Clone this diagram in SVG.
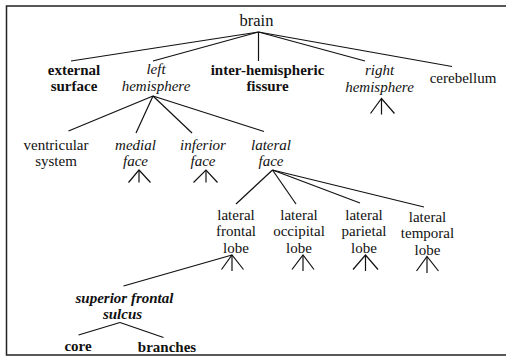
<svg xmlns="http://www.w3.org/2000/svg" width="506" height="356" viewBox="0 0 506 356" font-family="Liberation Serif, DejaVu Serif, serif">
<style>
text{font-family:'Liberation Serif','DejaVu Serif',serif;font-size:15px;fill:#111;text-anchor:middle}
.b{font-weight:bold}
.i{font-style:italic}
.e line,.e polyline{stroke:#111;stroke-width:1.2;fill:none}
.frame{fill:none;stroke:#222;stroke-width:1.5}
</style>
<rect class="frame" x="6.5" y="6" width="510" height="349"/>
<g id="connectors" class="e">
<line x1="258.5" y1="32" x2="71" y2="61"/>
<line x1="258.5" y1="32" x2="153" y2="61"/>
<line x1="258.5" y1="32" x2="258.5" y2="61"/>
<line x1="258.5" y1="32" x2="365" y2="61"/>
<line x1="258.5" y1="32" x2="452" y2="66.5"/>
<line x1="153" y1="96" x2="68.5" y2="131"/>
<line x1="153" y1="96" x2="136" y2="133"/>
<line x1="153" y1="96" x2="192" y2="133"/>
<line x1="153" y1="96" x2="264" y2="131.5"/>
<line x1="272.5" y1="170" x2="236" y2="204"/>
<line x1="272.5" y1="170" x2="296" y2="204"/>
<line x1="272.5" y1="170" x2="360" y2="203"/>
<line x1="272.5" y1="170" x2="424" y2="207"/>
<line x1="232" y1="255" x2="123.5" y2="286"/>
<line x1="120" y1="322.5" x2="78.5" y2="335"/>
<line x1="120" y1="322.5" x2="163.5" y2="337.5"/>
<polyline points="370.5,113.5 381.5,98.5 394.5,113.5"/><line x1="381.5" y1="98.5" x2="381.5" y2="114.5"/>
<polyline points="128.5,182.5 139,170 150.5,182.5"/><line x1="139" y1="170" x2="139" y2="182.5"/>
<polyline points="193.5,182.5 206,170 217.5,182.5"/><line x1="206" y1="170" x2="206" y2="182.5"/>
<polyline points="221.5,269.5 232,255 243.5,269.5"/><line x1="232" y1="255" x2="232" y2="271"/>
<polyline points="292,269.5 303,255 314,269.5"/><line x1="303" y1="255" x2="303" y2="271"/>
<polyline points="353,269.5 365.5,255 378,269.5"/><line x1="365.5" y1="255" x2="365.5" y2="271"/>
<polyline points="416.5,271 427,256.5 438.5,271"/><line x1="427" y1="256.5" x2="427" y2="273"/>
</g>
<g id="brain"><text x="256.5" y="26" style="font-size:16.5px">brain</text></g>
<g id="external-surface"><text class="b" x="74" y="75">external</text><text class="b" x="74" y="91">surface</text></g>
<g id="left-hemisphere"><text class="i" x="156" y="74">left</text><text class="i" x="156" y="91">hemisphere</text></g>
<g id="inter-hemispheric-fissure"><text class="b" x="267.5" y="75">inter-hemispheric</text><text class="b" x="267.5" y="91">fissure</text></g>
<g id="right-hemisphere"><text class="i" x="379.5" y="75">right</text><text class="i" x="379.5" y="92">hemisphere</text></g>
<g id="cerebellum"><text x="463" y="83">cerebellum</text></g>
<g id="ventricular-system"><text x="56" y="150">ventricular</text><text x="56" y="166">system</text></g>
<g id="medial-face"><text class="i" x="135.5" y="150">medial</text><text class="i" x="135.5" y="166">face</text></g>
<g id="inferior-face"><text class="i" x="203" y="150">inferior</text><text class="i" x="203" y="166">face</text></g>
<g id="lateral-face"><text class="i" x="271" y="150">lateral</text><text class="i" x="271" y="166">face</text></g>
<g id="lateral-frontal-lobe"><text x="236" y="219.5">lateral</text><text x="236" y="236">frontal</text><text x="236" y="252.5">lobe</text></g>
<g id="lateral-occipital-lobe"><text x="299" y="219.5">lateral</text><text x="299" y="236">occipital</text><text x="299" y="252.5">lobe</text></g>
<g id="lateral-parietal-lobe"><text x="364" y="219.5">lateral</text><text x="364" y="236">parietal</text><text x="364" y="252.5">lobe</text></g>
<g id="lateral-temporal-lobe"><text x="427.5" y="221.5">lateral</text><text x="427.5" y="238">temporal</text><text x="427.5" y="254.5">lobe</text></g>
<g id="superior-frontal-sulcus"><text class="b i" x="124.5" y="302.5">superior frontal</text><text class="b i" x="122.5" y="318.5">sulcus</text></g>
<g id="core"><text class="b" x="78" y="350.5">core</text></g>
<g id="branches"><text class="b" x="167" y="351.5">branches</text></g>
</svg>
